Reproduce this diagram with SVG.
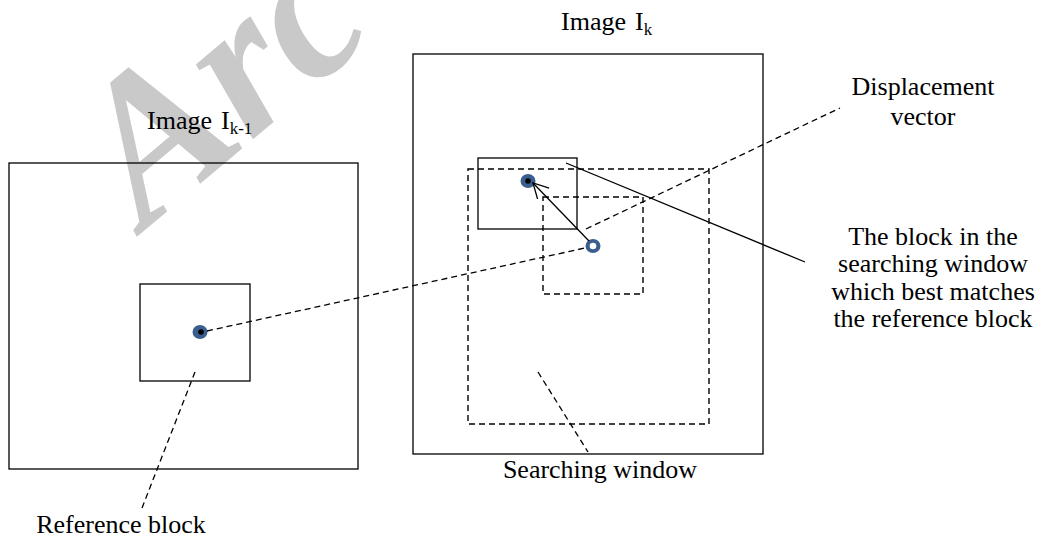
<svg xmlns="http://www.w3.org/2000/svg" width="1044" height="540" viewBox="0 0 1044 540">
<style>
.t{font-family:"Liberation Serif","Times New Roman",serif;font-size:26px;fill:#000}
.m{text-anchor:middle}
.s{font-size:17px}
.box{fill:none;stroke:#000;stroke-width:1.3}
.dbox{fill:none;stroke:#000;stroke-width:1.4;stroke-dasharray:6,4}
.ln{fill:none;stroke:#000;stroke-width:1.3}
.dl{fill:none;stroke:#000;stroke-width:1.3;stroke-dasharray:6,4}
.ring{fill:#3a5f8f}
.wm{font-family:"Liberation Serif","Times New Roman",serif;font-size:205px;font-weight:bold;font-style:italic;fill:#c9c9c9}
</style>
<defs>
<marker id="open" viewBox="0 0 16 18" refX="15" refY="8.5" markerWidth="16" markerHeight="18" markerUnits="userSpaceOnUse" orient="auto">
<path d="M0,0.5 L15,8.5 L0,16.5" fill="none" stroke="#000" stroke-width="1.3"/>
</marker>
</defs>
<rect width="1044" height="540" fill="#fff"/>
<text class="wm" transform="translate(145,230) rotate(-40)">Arc</text>

<g id="image-k-1">
<rect class="box" x="9" y="163" width="349" height="306"/>
<text class="t" x="147" y="129">Image<tspan dx="9">I</tspan><tspan class="s" dy="5">k-1</tspan></text>
</g>
<g id="reference-block">
<rect class="box" x="140" y="284" width="110" height="97"/>
<ellipse class="ring" cx="200" cy="332" rx="7.5" ry="7"/>
<circle cx="201" cy="332" r="2.8" fill="#000"/>
</g>
<g id="image-k">
<rect class="box" x="413" y="54" width="350" height="400"/>
<text class="t" x="561" y="30">Image<tspan dx="9">I</tspan><tspan class="s" dy="5">k</tspan></text>
</g>
<g id="searching-window">
<rect class="dbox" x="468" y="169" width="241" height="255"/>
</g>
<g id="center-window">
<rect class="dbox" x="543" y="197" width="100" height="97"/>
</g>
<g id="best-block">
<rect class="box" x="478" y="158" width="99" height="71"/>
<ellipse class="ring" cx="528" cy="181" rx="7.5" ry="7"/>
<circle cx="528" cy="181" r="2.8" fill="#000"/>
</g>
<g id="center-point">
<ellipse class="ring" cx="593" cy="246" rx="7.5" ry="7"/>
<circle cx="593" cy="246" r="3.3" fill="#fff"/>
</g>
<g id="label-displacement">
<text class="t m" x="923" y="95">Displacement</text>
<text class="t m" x="923" y="125">vector</text>
</g>
<g id="label-best">
<text class="t m" x="933" y="245">The block in the</text>
<text class="t m" x="933" y="272">searching window</text>
<text class="t m" x="933" y="300">which best matches</text>
<text class="t m" x="933" y="327">the reference block</text>
</g>
<g id="label-searching">
<text class="t m" x="600" y="478">Searching window</text>
</g>
<g id="label-reference">
<text class="t m" x="121" y="533">Reference block</text>
</g>

<g id="connectors">
<line class="dl" x1="207" y1="331" x2="585" y2="248"/>
<line class="ln" x1="589" y1="241" x2="533" y2="183" marker-end="url(#open)"/>
<line class="dl" x1="586" y1="229" x2="840" y2="108"/>
<line class="ln" x1="566" y1="163" x2="805" y2="262"/>
<line class="dl" x1="538" y1="372" x2="588" y2="452"/>
<line class="dl" x1="195" y1="372" x2="142" y2="508"/>
</g>
</svg>
